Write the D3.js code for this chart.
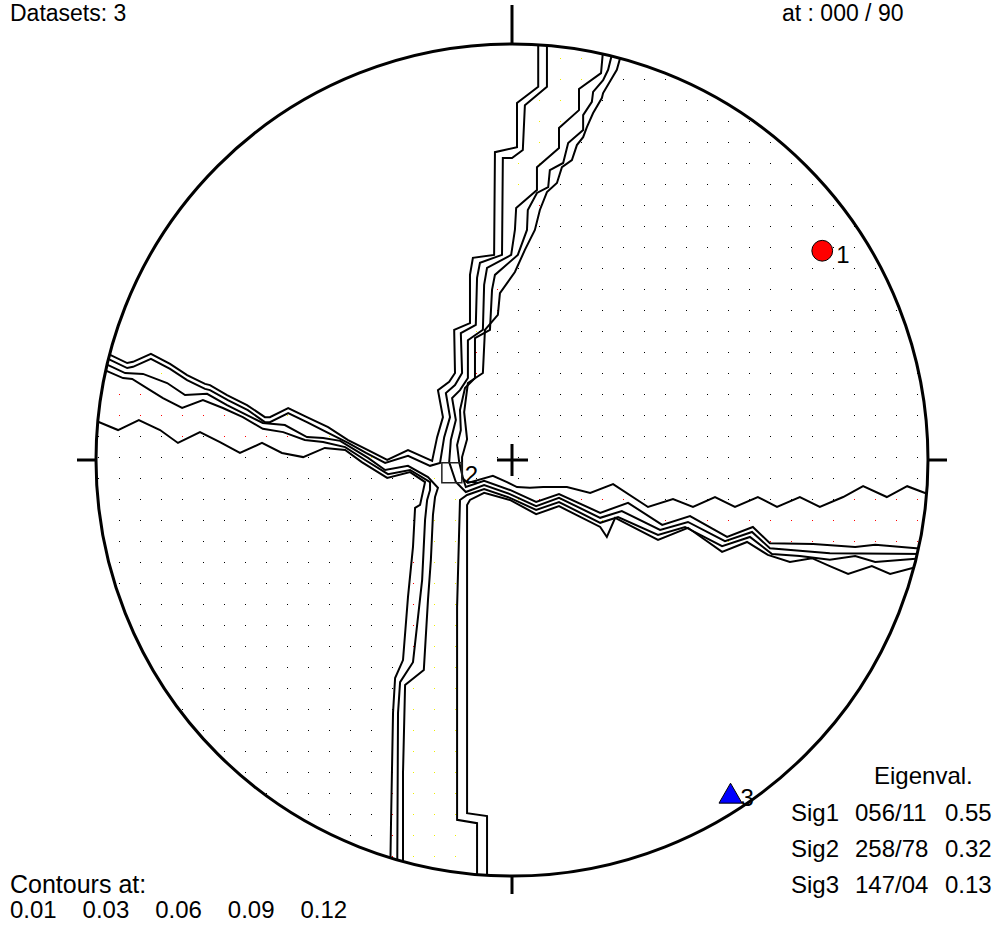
<!DOCTYPE html>
<html>
<head>
<meta charset="utf-8">
<script src="https://cdn.jsdelivr.net/npm/d3@7"></script>
<style>
  body { margin: 0; background: #fff; }
  text { font-family: "Liberation Sans", Arial, Helvetica, sans-serif; fill: #000; }
</style>
</head>
<body>
<svg id="chart" width="997" height="936"></svg>
<script>
// ---- Principal stress axes (trend / plunge, degrees) ----
const sigmaNames   = ["Sig1", "Sig2", "Sig3"];
const sigmaTrend   = [56, 258, 147];
const sigmaPlunge  = [11, 78, 4];
const eigenvalues  = [0.55, 0.32, 0.13];
const contourLevels = [0.01, 0.03, 0.06, 0.09, 0.12];
const datasetCount = 3;

// ---- Contour traces, equal-area net coordinates (net radius = 100) ----
// NW side
const contourNW1 = [[6.3,101.0],[6.3,89.7],[1.2,85.8],[1.2,75.2],[-4.1,74.0],[-4.3,49.3],[-9.4,48.6],[-10.1,44.5],[-10.1,32.9],[-13.9,31.3],[-13.7,20.9],[-15.1,18.8],[-17.8,16.8],[-16.6,10.3],[-18.0,5.5],[-19.2,-0.2],[-25.0,2.4],[-30.0,0],[-34.6,2.4],[-39.4,4.8],[-44.2,7.9],[-49.3,10.3],[-53.8,12.5],[-58.2,10.3],[-59.4,10.3],[-63.7,13.2],[-68.5,15.6],[-72.6,18.0],[-73.8,18.3],[-78.1,20.4],[-82.2,23.1],[-86.8,25.5],[-91.1,23.6],[-92.5,23.3],[-98.1,26.0]];
const contourNW2 = [[8.4,101.0],[8.4,89.7],[3.1,85.3],[2.6,74.5],[0,72.6],[-2.2,72.6],[-2.4,49.3],[-7.7,47.4],[-8.4,43.8],[-8.7,32.5],[-12.3,30.5],[-12.0,20.9],[-13.7,18.0],[-15.9,16.1],[-14.9,10.3],[-16.3,5.5],[-17.3,-0.7],[-19.7,-1.4],[-25.0,1.0],[-30.5,-0.7],[-35.1,1.7],[-39.4,4.1],[-44.2,6.5],[-49.3,9.1],[-53.8,11.3],[-58.2,9.1],[-59.4,9.1],[-63.5,12.0],[-68.3,14.4],[-72.6,16.8],[-73.8,17.1],[-78.1,19.2],[-82.2,21.9],[-86.8,24.3],[-91.1,22.4],[-92.5,22.1],[-98.1,24.8]];
// NE side
const contourNE2 = [[21.9,98.6],[21.4,93.0],[16.1,89.2],[16.1,84.1],[11.3,79.8],[11.3,75.0],[6.0,70.4],[6.0,64.9],[1.0,60.6],[0.7,55.3],[-0.2,49.3],[-6.0,46.2],[-6.7,42.1],[-7.0,31.3],[-10.6,28.8],[-10.6,19.7],[-12.5,16.8],[-14.4,14.9],[-13.5,9.6],[-14.7,4.8],[-15.1,-0.5],[-13.5,-5.3],[-11.1,-7.7],[-6.7,-6.0],[-0.5,-8.2],[5.8,-11.1],[11.3,-9.1],[21.2,-13.9],[26.4,-12.3],[35.6,-16.8],[42.3,-14.9],[51.2,-19.5],[57.7,-17.3],[62.0,-21.2],[76.4,-22.4],[99.3,-22.6]];
const contourNE1 = [[24.3,98.6],[23.1,93.8],[21.9,91.3],[19.5,88.5],[19.2,86.1],[17.1,82.9],[17.1,79.3],[13.5,76.2],[12.3,71.4],[9.1,69.7],[8.7,65.6],[6.0,64.2],[3.8,60.1],[3.6,55.3],[1.4,49.3],[-4.1,44.5],[-4.8,40.9],[-5.3,31.3],[-8.9,29.3],[-8.9,19.7],[-11.3,17.3],[-12.5,12.0],[-12.3,7.2],[-13.2,3.6],[-12.7,-0.5],[-11.8,-4.3],[-11.1,-6.5],[-6.7,-5.0],[-0.5,-7.2],[5.8,-10.1],[11.3,-8.2],[21.2,-12.7],[27.9,-10.3],[36.1,-15.6],[42.8,-13.5],[51.7,-18.5],[57.9,-16.1],[62.0,-20.0],[72.4,-20.2],[82.5,-20.9],[87.3,-20.4],[99.3,-21.4]];
const contourNE0 = [[26.4,98.1],[25.2,93.8],[21.9,88.2],[21.6,87.0],[19.5,83.4],[18.0,80.0],[17.1,77.6],[15.6,75.7],[14.4,72.1],[12.0,70.4],[10.8,66.6],[8.4,64.4],[6.7,60.1],[5.5,55.3],[3.1,50.5],[0.7,45.2],[-2.9,40.1],[-3.4,34.9],[-6.5,31.3],[-7.0,20.9],[-10.6,18.5],[-11.5,11.5],[-10.8,5.0],[-12.0,0.7],[-12.0,-4.3],[-10.6,-5.5],[-4.6,-3.8],[-1.2,-5.3],[1.2,-6.5],[4.3,-6.7],[7.5,-6.5],[13.2,-6.5],[18.8,-7.9],[24.3,-5.8],[32.7,-11.3],[38.7,-9.4],[43.5,-11.3],[48.8,-8.9],[53.6,-11.3],[59.1,-8.9],[63.7,-11.3],[69.2,-8.9],[74.0,-11.3],[79.6,-8.9],[84.4,-6.3],[90.1,-8.9],[95.0,-6.3],[100.5,-8.4]];
// SE side
const contourSE1 = [[-8.4,-101.0],[-8.4,-87.3],[-13.2,-86.5],[-13.2,-35.3],[-12.7,-16.8],[-12.5,-9.6],[-10.8,-8.4],[-6.7,-7.0],[-0.5,-9.1],[5.8,-12.0],[11.3,-10.1],[21.2,-15.1],[25.5,-13.7],[35.1,-18.0],[41.6,-16.1],[50.5,-20.7],[57.2,-18.5],[62.5,-22.6],[69.2,-23.1],[76.4,-24.0],[82.5,-23.1],[87.3,-24.5],[98.6,-23.6]];
const contourSE2 = [[-6.0,-101.0],[-6.0,-85.6],[-10.8,-84.9],[-10.8,-10.8],[-10.1,-9.6],[-6.7,-7.9],[-0.5,-9.6],[5.8,-13.0],[11.3,-11.1],[21.2,-16.1],[22.8,-18.5],[24.8,-13.9],[35.1,-19.2],[42.3,-16.3],[50.5,-22.1],[56.5,-19.7],[61.5,-22.8],[66.8,-24.5],[72.1,-23.6],[76.4,-25.5],[80.8,-27.4],[86.5,-25.5],[90.9,-27.4],[98.1,-25.5]];
// SW side
const contourSW1 = [[-98.1,23.3],[-93.0,20.9],[-88.7,20.7],[-82.9,18.5],[-78.6,15.6],[-73.3,15.9],[-68.5,13.2],[-63.7,10.8],[-59.9,8.9],[-54.6,8.4],[-49.3,5.5],[-45.4,5.3],[-41.3,4.6],[-34.6,0.5],[-30.5,-2.4],[-25.0,-1.4],[-20.2,-4.1],[-17.8,-6.7],[-18.5,-8.9],[-19.0,-13.2],[-19.5,-24.0],[-20.2,-33.7],[-21.2,-50.5],[-25.7,-54.1],[-26.2,-75.2],[-26.2,-101.0]];
const contourSW2 = [[-99.0,22.1],[-93.5,19.7],[-91.3,19.5],[-87.0,16.8],[-83.9,14.9],[-79.3,12.5],[-74.3,14.4],[-69.5,12.5],[-64.7,10.3],[-59.9,7.5],[-55.0,6.7],[-49.8,4.8],[-45.4,4.3],[-40.1,3.1],[-35.3,0],[-29.8,-3.4],[-24.5,-2.4],[-19.7,-5.3],[-19.7,-7.2],[-20.4,-9.6],[-20.9,-14.4],[-21.6,-28.8],[-23.8,-48.6],[-26.9,-53.4],[-27.4,-60.8],[-27.6,-101.0]];
const contourSW0 = [[-100.5,9.6],[-94.7,7.2],[-89.7,9.6],[-84.6,7.2],[-80.3,4.1],[-75.0,6.7],[-70.2,4.3],[-65.4,1.7],[-60.1,4.1],[-55.3,1.7],[-50.2,0.7],[-45.0,2.9],[-40.1,2.4],[-36.1,-0.5],[-30.0,-4.3],[-24.5,-2.9],[-20.9,-5.3],[-22.1,-10.8],[-23.3,-11.5],[-23.8,-20.9],[-25.0,-32.9],[-26.2,-48.1],[-28.1,-52.4],[-28.6,-60.8],[-29.1,-88.2],[-29.3,-101.0]];

const contourLines = [contourNW1, contourNW2, contourNE2, contourNE1, contourNE0,
                      contourSE1, contourSE2, contourSW1, contourSW2, contourSW0];

// ---- Layout ----
const W = 997, H = 936;
const cx = 512, cy = 460, R = 416;
const x = d3.scaleLinear().domain([-100, 100]).range([cx - R, cx + R]);
const y = d3.scaleLinear().domain([-100, 100]).range([cy + R, cy - R]);
const line = d3.line().x(d => x(d[0])).y(d => y(d[1]));

const svg = d3.select("#chart");
svg.append("rect").attr("width", W).attr("height", H).attr("fill", "#fff");
const defs = svg.append("defs");
defs.append("clipPath").attr("id", "net")
  .append("circle").attr("cx", cx).attr("cy", cy).attr("r", R);

// stipple patterns for the shaded domains
[["dotsBlack", "#000"], ["dotsRed", "#f00"], ["dotsYellow", "#ee0"]].forEach(([id, c]) => {
  const p = defs.append("pattern").attr("id", id)
    .attr("patternUnits", "userSpaceOnUse")
    .attr("width", 21).attr("height", 21).attr("x", 4).attr("y", 6);
  p.append("rect").attr("x", 10).attr("y", 10).attr("width", 1).attr("height", 1).attr("fill", c);
});

// equal-area (Schmidt) projection of a lower-hemisphere line, in net units
function project(trend, plunge) {
  const r = Math.SQRT2 * Math.sin((90 - plunge) / 2 * Math.PI / 180) * 100;
  const t = trend * Math.PI / 180;
  return [r * Math.sin(t), r * Math.cos(t)];
}

// closes a chain of traces with arcs running outside the net
function outerArc(p, q) {
  const a1 = Math.atan2(p[1], p[0]), a2 = Math.atan2(q[1], q[0]);
  let d = a2 - a1;
  while (d > Math.PI) d -= 2 * Math.PI;
  while (d < -Math.PI) d += 2 * Math.PI;
  const pts = [];
  for (let i = 0; i <= 12; i++) {
    const a = a1 + d * i / 12;
    pts.push([150 * Math.cos(a), 150 * Math.sin(a)]);
  }
  return pts;
}
function region(parts) {
  let pts = [];
  parts.forEach((seq, i) => {
    const next = parts[(i + 1) % parts.length];
    pts = pts.concat(seq, outerArc(seq[seq.length - 1], next[0]));
  });
  return pts;
}
const rev = a => a.slice().reverse();

const fills = svg.append("g").attr("clip-path", "url(#net)");
const domains = [
  [region([contourNE0]), "dotsBlack"],
  [region([contourSW0]), "dotsBlack"],
  [region([contourNE1, rev(contourNE0)]), "dotsRed"],
  [region([contourSW2, rev(contourSW0)]), "dotsRed"],
  [region([contourNW2, contourSW1, contourSE1, rev(contourNE2)]), "dotsYellow"]
];
fills.selectAll("path.domain").data(domains).join("path")
  .attr("class", "domain")
  .attr("d", d => line(d[0]) + "Z")
  .attr("fill", d => `url(#${d[1]})`)
  .attr("stroke", "none");

// contour lines
const lines = svg.append("g").attr("clip-path", "url(#net)");
lines.selectAll("path.contour").data(contourLines).join("path")
  .attr("class", "contour")
  .attr("d", line)
  .attr("fill", "none")
  .attr("stroke", "#000")
  .attr("stroke-width", 2)
  .attr("stroke-linejoin", "miter");

// primitive circle, ticks and centre cross
svg.append("circle").attr("cx", cx).attr("cy", cy).attr("r", R)
  .attr("fill", "none").attr("stroke", "#000").attr("stroke-width", 3);
const ticks = [
  [x(0), y(100) - 39, x(0), y(100)],
  [x(0), y(-100), x(0), y(-100) + 18],
  [x(-100) - 19, y(0), x(-100), y(0)],
  [x(100), y(0), x(100) + 19, y(0)],
  [x(0) - 15, y(0), x(0) + 16, y(0)],
  [x(0), y(0) - 16, x(0), y(0) + 16]
];
svg.selectAll("line.tick").data(ticks).join("line")
  .attr("class", "tick")
  .attr("x1", d => d[0]).attr("y1", d => d[1])
  .attr("x2", d => d[2]).attr("y2", d => d[3])
  .attr("stroke", "#000").attr("stroke-width", 3);

// principal axes
const axes = sigmaNames.map((n, i) => {
  const p = project(sigmaTrend[i], sigmaPlunge[i]);
  return { i, px: x(p[0]), py: y(p[1]) };
});
const gAx = svg.append("g");
gAx.selectAll("path.axis").data(axes).join("path")
  .attr("class", "axis")
  .attr("transform", d => `translate(${d.px},${d.py})`)
  .attr("d", d => d3.symbol()
      .type([d3.symbolCircle, d3.symbolSquare, d3.symbolTriangle][d.i])
      .size([340, 400, 230][d.i])())
  .attr("fill", d => ["#f00", "none", "#00f"][d.i])
  .attr("stroke", d => d.i === 1 ? "#222" : "#000")
  .attr("stroke-width", d => d.i === 1 ? 1.5 : 1);
gAx.selectAll("text.axlab").data(axes).join("text")
  .attr("class", "axlab")
  .attr("x", d => d.px + [14, 13, 10][d.i])
  .attr("y", d => d.py + [12, 10, 10][d.i])
  .attr("font-size", 24)
  .text(d => d.i + 1);

// header texts
svg.append("text").attr("x", 10).attr("y", 21).attr("font-size", 23)
  .text(`Datasets: ${datasetCount}`);
svg.append("text").attr("x", 782).attr("y", 21).attr("font-size", 23)
  .text("at : 000 / 90");

// eigenvalue table
const pad = (v, n) => String(v).padStart(n, "0");
svg.append("text").attr("x", 874).attr("y", 784).attr("font-size", 24).text("Eigenval.");
const rows = svg.append("g").attr("font-size", 24);
sigmaNames.forEach((n, i) => {
  const yy = 821 + i * 35.8;
  rows.append("text").attr("x", 791).attr("y", yy).text(n);
  rows.append("text").attr("x", 855).attr("y", yy)
    .text(`${pad(sigmaTrend[i], 3)}/${pad(sigmaPlunge[i], 2)}`);
  rows.append("text").attr("x", 945).attr("y", yy).text(eigenvalues[i].toFixed(2));
});

// contour level legend
svg.append("text").attr("x", 10).attr("y", 893).attr("font-size", 25).text("Contours at:");
svg.append("g").attr("font-size", 24).selectAll("text").data(contourLevels).join("text")
  .attr("x", (d, i) => 10 + i * 72.6)
  .attr("y", 918)
  .text(d => d.toFixed(2));
</script>
</body>
</html>
